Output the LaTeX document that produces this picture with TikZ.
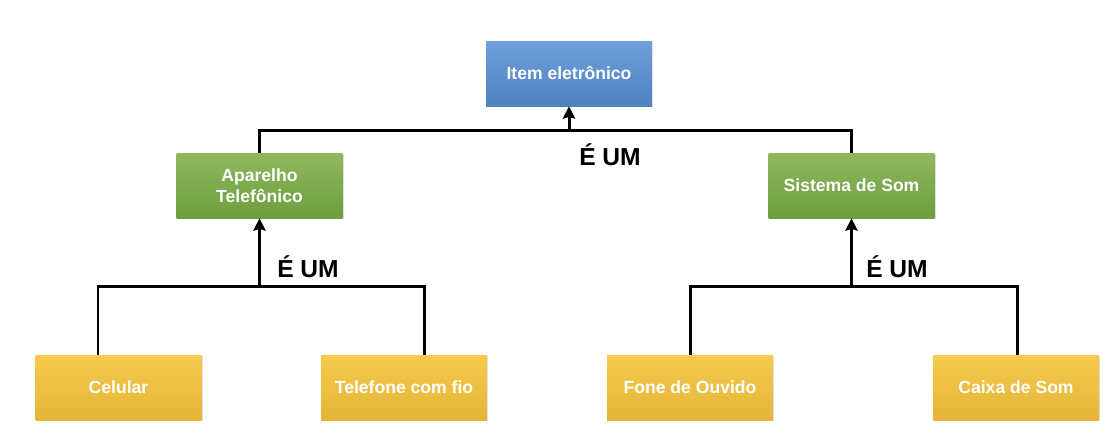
\documentclass[tikz,border=0pt]{standalone}
\usepackage{fontspec}
\setmainfont{Liberation Sans}
\usetikzlibrary{shadows,arrows.meta}
\definecolor{itemtop}{RGB}{112,160,220}
\definecolor{itembot}{RGB}{79,129,193}
\definecolor{grntop}{RGB}{142,184,94}
\definecolor{grnbot}{RGB}{110,157,62}
\definecolor{ylwtop}{RGB}{246,202,78}
\definecolor{ylwbot}{RGB}{228,181,55}
\begin{document}
\begin{tikzpicture}[x=0.02cm,y=-0.02cm,
        box/.style={minimum width=3.32cm, minimum height=1.3cm, inner sep=0pt, align=center,
            text=white, font=\fontsize{10}{12}\selectfont\bfseries,
            drop shadow={shadow xshift=0.8pt, shadow yshift=-0.8pt, opacity=0.25}},
        bluebox/.style={box, top color=itemtop, bottom color=itembot},
        greenbox/.style={box, top color=grntop, bottom color=grnbot},
        yellowbox/.style={box, top color=ylwtop, bottom color=ylwbot},
        bar/.style={line width=1.7pt},
        isa/.style={line width=1.7pt, -{Stealth[length=7pt,width=7pt,inset=1pt]}},
        rel/.style={font=\fontsize{14}{16}\selectfont\bfseries}]
        \useasboundingbox (0,0) rectangle (1118,444);

        \node[bluebox] (item) at (569,73.5) {Item eletrônico};
        \node[greenbox] (apar) at (259.5,185.5) {Aparelho\\Telefônico};
        \node[greenbox] (sist) at (851.5,185.5) {Sistema de Som};
        \node[yellowbox] (cel) at (118.5,387.5) {Celular};
        \node[yellowbox] (tel) at (404,387.5) {Telefone com fio};
        \node[yellowbox] (fone) at (690,387.5) {Fone de Ouvido};
        \node[yellowbox] (caixa) at (1016,387.5) {Caixa de Som};

        \coordinate (tb) at (569,130);
        \draw[bar] (apar.north) |- (tb) -| (sist.north);
        \draw[isa] (tb) -- (item.south);
        \node[rel] (r1) at (610,155) {É UM};

        \coordinate (cl) at (98,286);
        \coordinate (tl) at (424,286);
        \draw[bar] (cl |- cel.north) -- (cl) -- (tl) -- (tl |- tel.north);
        \draw[isa] (apar.south |- cl) -- (apar.south);
        \node[rel] (r2) at (308,267) {É UM};

        \coordinate (fl) at (690,286);
        \coordinate (kl) at (1017,286);
        \draw[bar] (fl |- fone.north) -- (fl) -- (kl) -- (kl |- caixa.north);
        \draw[isa] (sist.south |- fl) -- (sist.south);
        \node[rel] (r3) at (897,267) {É UM};
    \end{tikzpicture}
\end{document}
